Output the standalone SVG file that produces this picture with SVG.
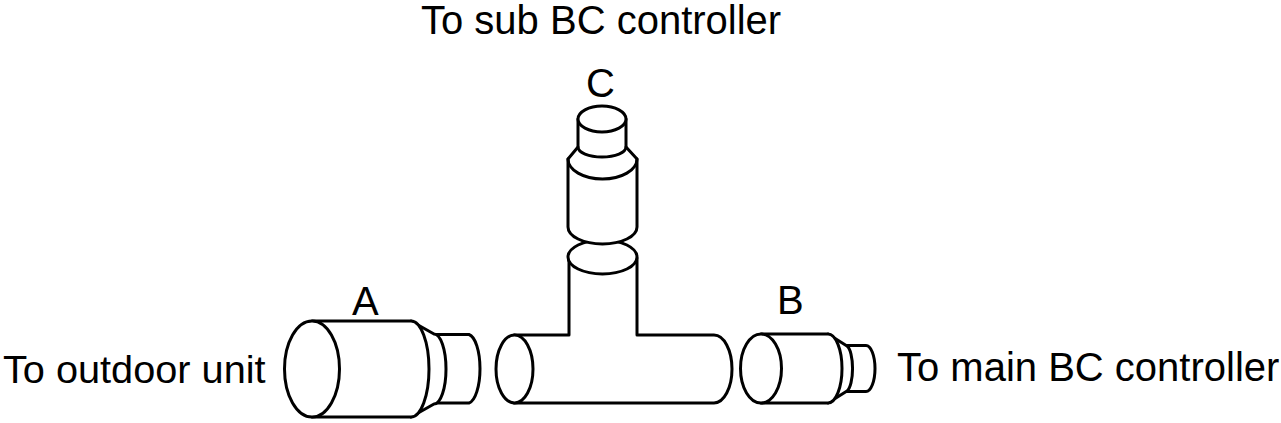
<svg xmlns="http://www.w3.org/2000/svg" width="1281" height="423" viewBox="0 0 1281 423">
<style>
.s{fill:#fff;stroke:#000;stroke-width:3;stroke-linejoin:round;stroke-linecap:round}
.l{fill:none;stroke:#000;stroke-width:3;stroke-linecap:round}
text{font-family:"Liberation Sans",Arial,sans-serif;font-size:40px;fill:#000}
</style>
<rect width="1281" height="423" fill="#fff"/>
<g id="fitting-a">
<path class="s" d="M434 334.500H469A12.500 34.500 0 0 1 469 403H434Z"/>
<path class="s" d="M411 321L434 334A12 35 0 0 1 434 404L411 417Z"/>
<path class="s" d="M312 321H411A18 48 0 0 1 411 417H312Z"/>
<ellipse class="s" cx="312" cy="369" rx="27.500" ry="48"/>
</g>
<g id="tee">
<path class="s" d="M514 335H569V258H637V335H714A18 34 0 0 1 714 403H514Z"/>
<ellipse class="s" cx="514.500" cy="369" rx="18.500" ry="34"/>
<ellipse class="s" cx="602.500" cy="257" rx="34.500" ry="17"/>
</g>
<g id="fitting-c">
<path class="s" d="M578 119H626V147L637 159V227A34.500 17 0 0 1 568 227V159L578 147Z"/>
<ellipse class="s" cx="602" cy="119" rx="24" ry="13"/>
<path class="l" d="M578 147A24 10 0 0 0 626 147"/>
<path class="l" d="M568 159A34.500 20 0 0 0 637 159"/>
</g>
<g id="fitting-b">
<path class="s" d="M847 345.500H866A9 23 0 0 1 866 391.500H847Z"/>
<path class="s" d="M828 334L847 346A7 23 0 0 1 847 391L828 403Z"/>
<path class="s" d="M761 334H828A14 34.500 0 0 1 828 403H761Z"/>
<ellipse class="s" cx="761" cy="368.500" rx="20.500" ry="34.500"/>
</g>
<g id="labels">
<text x="421" y="34">To sub BC controller</text>
<text x="586" y="97">C</text>
<text x="352" y="315">A</text>
<text x="777" y="314">B</text>
<text x="3" y="383" style="font-size:39.700px">To outdoor unit</text>
<text x="897" y="381">To main BC controller</text>
</g>
</svg>
